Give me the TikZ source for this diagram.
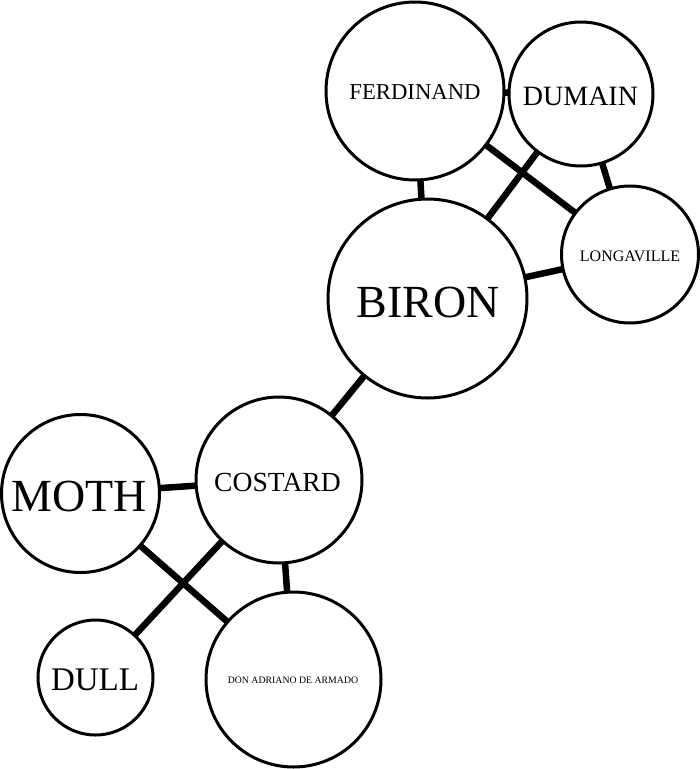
\documentclass[tikz,border=0pt]{standalone}
\usepackage{fontspec}
\setmainfont{Liberation Serif}
\usetikzlibrary{backgrounds}
\tikzset{
  person/.style={circle, draw=black, fill=white, line width=3pt, inner sep=0pt, outer sep=0pt, minimum size=#1},
  tie/.style={line width=6.5pt, black},
  nametext/.style={inner sep=0pt, font=\fontsize{#1}{#1}\selectfont}
}
\begin{document}
\begin{tikzpicture}[x=1pt, y=-1pt]
\useasboundingbox (0,0) rectangle (700,769);
\node[person=178pt] (ferd) at (415,91) {};
\node[person=144pt] (dum) at (581,94) {};
\node[person=137pt] (long) at (630,254.5) {};
\node[person=199pt] (biron) at (427.5,298.5) {};
\node[person=166pt] (cost) at (279,480) {};
\node[person=158pt] (moth) at (80.5,493.5) {};
\node[person=115pt] (dull) at (95.5,677.5) {};
\node[person=175pt] (don) at (293.5,679.5) {};
\node[nametext=22.7] (tferd) at (415,92.5) {FERDINAND};
\node[nametext=28] (tdum) at (580.5,96.5) {DUMAIN};
\node[nametext=16] (tlong) at (630,256.5) {LONGAVILLE};
\node[nametext=46] (tbiron) at (428,302) {BIRON};
\node[nametext=27.6] (tcost) at (277.5,482.5) {COSTARD};
\node[nametext=46] (tmoth) at (79.5,496.5) {MOTH};
\node[nametext=33] (tdull) at (95,679.5) {DULL};
\node[nametext=9.8] (tdon) at (293,680.5) {DON ADRIANO DE ARMADO};
\begin{scope}[on background layer]
\draw[tie] (ferd) -- (dum);
\draw[tie] (ferd) -- (biron);
\draw[tie] (ferd) -- (long);
\draw[tie] (dum) -- (biron);
\draw[tie] (dum) -- (long);
\draw[tie] (biron) -- (long);
\draw[tie] (biron) -- (cost);
\draw[tie] (cost) -- (moth);
\draw[tie] (cost) -- (dull);
\draw[tie] (cost) -- (don);
\draw[tie] (moth) -- (don);
\end{scope}
\end{tikzpicture}
\end{document}
